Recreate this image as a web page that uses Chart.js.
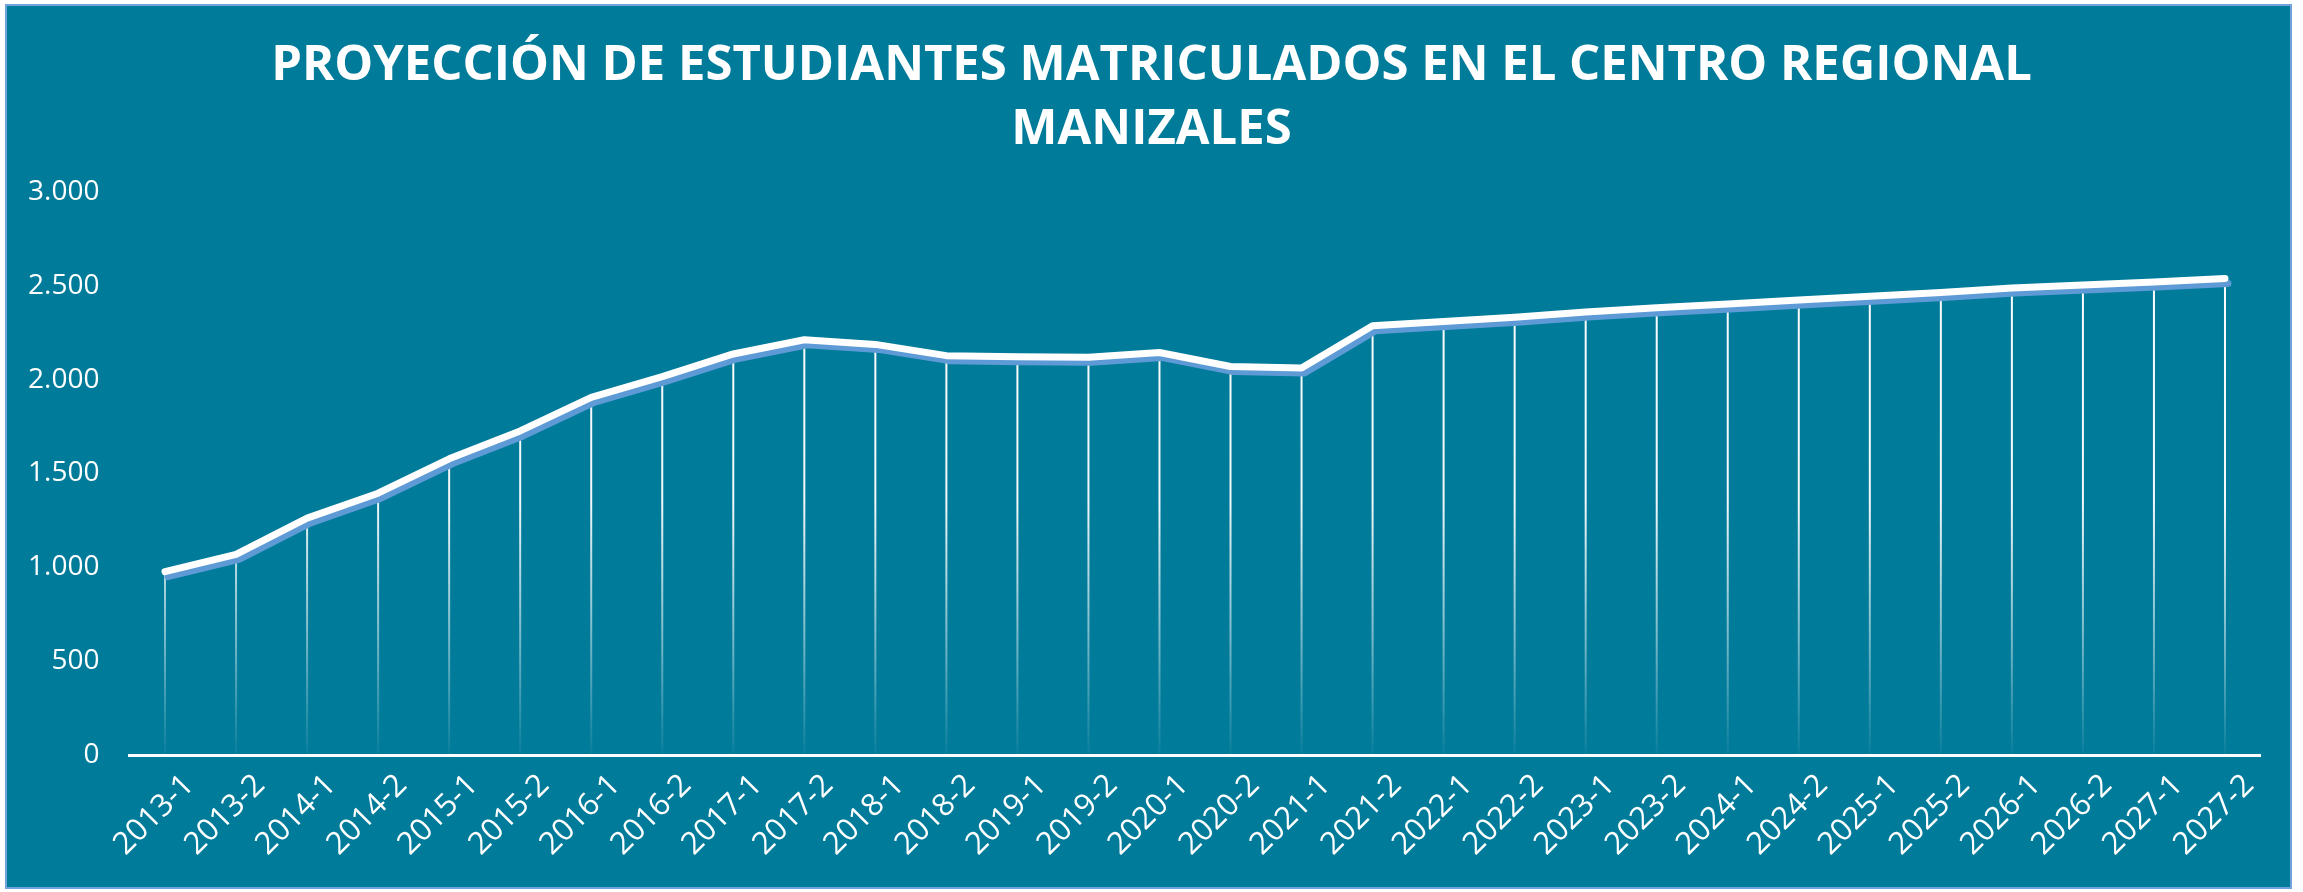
<!DOCTYPE html>
<html>
<head>
<meta charset="utf-8">
<script src="https://cdn.jsdelivr.net/npm/chart.js@4.4.1/dist/chart.umd.min.js"></script>
<style>
  html, body { margin: 0; padding: 0; background: #ffffff; overflow: hidden; }
  canvas { display: block; }
</style>
</head>
<body>
<canvas id="c" width="2303" height="892"></canvas>
<script>
const titleLines = ["PROYECCIÓN DE ESTUDIANTES MATRICULADOS EN EL CENTRO REGIONAL", "MANIZALES"];

const periods = ["2013-1","2013-2","2014-1","2014-2","2015-1","2015-2","2016-1","2016-2","2017-1","2017-2",
                 "2018-1","2018-2","2019-1","2019-2","2020-1","2020-2","2021-1","2021-2","2022-1","2022-2",
                 "2023-1","2023-2","2024-1","2024-2","2025-1","2025-2","2026-1","2026-2","2027-1","2027-2"];

const students = [977, 1069, 1262, 1395, 1578, 1727, 1906, 2016, 2137, 2213,
                  2188, 2128, 2122, 2119, 2145, 2070, 2062, 2287, 2310, 2333,
                  2360, 2383, 2403, 2424, 2445, 2465, 2488, 2505, 2521, 2539];

const yTicks = [0, 500, 1000, 1500, 2000, 2500, 3000];

const BG = '#017B9A';
const FRAME = '#6FA3D9';
const SHADOW = '#5E9BD6';

function fmt(v) {
  return String(Math.round(v)).replace(/\B(?=(\d{3})+(?!\d))/g, '.');
}

const backgroundPlugin = {
  id: 'bgFrame',
  beforeDraw(chart) {
    const ctx = chart.ctx;
    ctx.save();
    ctx.fillStyle = '#ffffff';
    ctx.fillRect(0, 0, chart.width, chart.height);
    ctx.fillStyle = BG;
    ctx.fillRect(6, 5, 2285, 883);
    ctx.strokeStyle = FRAME;
    ctx.lineWidth = 2;
    ctx.strokeRect(6, 5, 2285, 883);
    ctx.restore();
  }
};

const dropLinesPlugin = {
  id: 'dropLines',
  beforeDatasetsDraw(chart) {
    const ctx = chart.ctx;
    const area = chart.chartArea;
    const meta = chart.getDatasetMeta(0);
    const yZero = chart.scales.y.getPixelForValue(0);
    const g = ctx.createLinearGradient(0, area.top, 0, yZero);
    g.addColorStop(0, 'rgba(255,255,255,1)');
    g.addColorStop(0.55, 'rgba(255,255,255,0.95)');
    g.addColorStop(0.8, 'rgba(255,255,255,0.45)');
    g.addColorStop(1, 'rgba(255,255,255,0.03)');
    ctx.save();
    ctx.strokeStyle = g;
    ctx.lineWidth = 2;
    meta.data.forEach(pt => {
      ctx.beginPath();
      ctx.moveTo(pt.x, pt.y);
      ctx.lineTo(pt.x, yZero);
      ctx.stroke();
    });
    ctx.restore();
  }
};

const shadowPlugin = {
  id: 'lineShadow',
  beforeDatasetDraw(chart) {
    const ctx = chart.ctx;
    ctx.save();
    ctx.shadowColor = SHADOW;
    ctx.shadowOffsetX = 3;
    ctx.shadowOffsetY = 5;
    ctx.shadowBlur = 0;
  },
  afterDatasetDraw(chart) {
    chart.ctx.restore();
  }
};

new Chart(document.getElementById('c'), {
  type: 'line',
  data: {
    labels: periods,
    datasets: [{
      data: students,
      yAxisID: 'y',
      borderColor: '#ffffff',
      borderWidth: 7,
      borderCapStyle: 'round',
      borderJoinStyle: 'round',
      pointRadius: 0,
      pointHoverRadius: 0,
      fill: false,
      tension: 0
    }]
  },
  options: {
    responsive: false,
    devicePixelRatio: 1,
    animation: false,
    layout: { padding: { left: 0, right: 0, top: 0, bottom: 0 } },
    plugins: {
      legend: { display: false },
      tooltip: { enabled: false },
      title: {
        display: true,
        text: titleLines,
        color: '#ffffff',
        font: { family: 'Open Sans', weight: 'bold', size: 49, lineHeight: 64 / 49 },
        padding: { top: 34, bottom: 30 }
      }
    },
    scales: {
      x: {
        type: 'category',
        offset: true,
        grid: { display: false, drawTicks: false },
        border: { display: true, color: '#ffffff', width: 3 },
        ticks: {
          color: '#ffffff',
          font: { family: 'Open Sans', size: 31 },
          minRotation: 45,
          maxRotation: 45,
          autoSkip: false,
          padding: 12,
          labelOffset: 24
        },
        afterFit(scale) { scale.height = 892 - 755; }
      },
      y: {
        min: 0,
        max: 3000,
        afterBuildTicks(scale) { scale.ticks = yTicks.map(v => ({ value: v })); },
        grid: { display: false, drawTicks: false },
        border: { display: false },
        ticks: {
          color: '#ffffff',
          font: { family: 'Open Sans', size: 28 },
          padding: 30,
          callback: (v) => fmt(v)
        },
        afterFit(scale) { scale.width = 129.5; }
      },
      yRight: {
        position: 'right',
        min: 0,
        max: 3000,
        grid: { display: false, drawTicks: false },
        border: { display: false },
        ticks: { display: false },
        afterFit(scale) { scale.width = 42.5; }
      }
    }
  },
  plugins: [backgroundPlugin, dropLinesPlugin, shadowPlugin]
});
</script>
</body>
</html>
